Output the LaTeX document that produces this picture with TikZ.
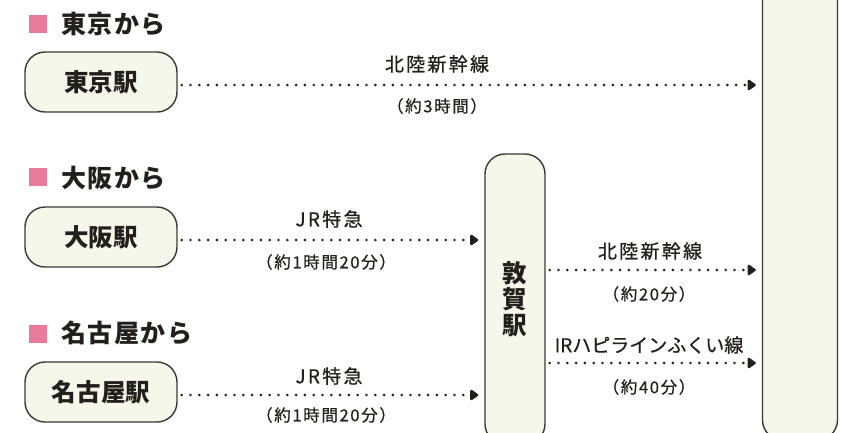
\documentclass[tikz,border=0pt]{standalone}
\usepackage{fontspec}
\setmainfont{Noto Sans CJK JP}
\usetikzlibrary{arrows.meta}
\definecolor{boxfill}{HTML}{F4F7EA}
\definecolor{boxline}{HTML}{3E3835}
\definecolor{pinkmark}{HTML}{E97A9B}
\definecolor{ink}{HTML}{231F1C}
\begin{document}
\begin{tikzpicture}[x=1bp,y=-1bp,
  station/.style={draw=boxline, line width=1.4bp, fill=boxfill, rounded corners=20bp,
    inner sep=0pt, text=ink, font=\bfseries\fontsize{24.5bp}{26bp}\selectfont},
  heading/.style={anchor=west, inner sep=0pt, text=ink,
    font=\bfseries\fontsize{25bp}{27bp}\selectfont\addfontfeature{LetterSpace=6}},
  marker/.style={fill=pinkmark, minimum size=18bp, inner sep=0pt},
  upper/.style={inner sep=0pt, text=ink, font=\fontsize{19bp}{21bp}\selectfont\addfontfeature{LetterSpace=12,FakeBold=0.6}},
  upperkana/.style={inner sep=0pt, text=ink, font=\fontsize{19bp}{21bp}\selectfont\addfontfeature{FakeBold=0.6}},
  lower/.style={inner sep=0pt, text=ink, font=\fontsize{16.5bp}{18bp}\selectfont\addfontfeature{LetterSpace=10,FakeBold=0.6}},
  route/.style={draw=ink, line width=2.9bp, dash pattern=on 0bp off 8.8bp, line cap=round,
    -{Triangle[length=9bp,width=12bp,round=false]}, shorten <=4bp, shorten >=6bp}
]
\useasboundingbox (0,0) rectangle (853,432);
\clip (0,0) rectangle (853,432);

% destination and transfer boxes
\node[station, minimum width=75bp, minimum height=480bp] (fukui) at (800,200) {};
\node[station, minimum width=60bp, minimum height=290bp, align=center] (tsuruga) at (515,299) {敦\\賀\\駅};

% headings
\node[marker] (m1) at (38,24) {};
\node[heading] (h1) at (61,24) {東京から};
\node[marker] (m2) at (38,177) {};
\node[heading] (h2) at (61,178) {大阪から};
\node[marker] (m3) at (38,334) {};
\node[heading] (h3) at (61,333) {名古屋から};

% origin stations
\node[station, minimum width=152bp, minimum height=60bp] (tokyo) at (101,82) {東京駅};
\node[station, minimum width=152bp, minimum height=60bp] (osaka) at (101,237) {大阪駅};
\node[station, minimum width=152bp, minimum height=60bp] (nagoya) at (101,392) {名古屋駅};

% routes
\draw[route] ([yshift=-3bp]tokyo.east) -- ([yshift=-3bp]tokyo.east -| fukui.west);
\draw[route] ([yshift=-3bp]osaka.east) -- ([yshift=-3bp]osaka.east -| tsuruga.west);
\draw[route] ([yshift=-3bp]nagoya.east) -- ([yshift=-3bp]nagoya.east -| tsuruga.west);
\draw[route] ([yshift=29bp]tsuruga.east) -- ([yshift=29bp]tsuruga.east -| fukui.west);
\draw[route] ([yshift=-64bp]tsuruga.east) -- ([yshift=-64bp]tsuruga.east -| fukui.west);

% labels
\node[upper] (l1a) at (437,64) {北陸新幹線};
\node[lower] (l1b) at (437,106) {（約3時間）};
\node[upper] (l2a) at (329,219) {JR特急};
\node[lower] (l2b) at (326,262) {（約1時間20分）};
\node[upper] (l3a) at (329,376) {JR特急};
\node[lower] (l3b) at (326,415) {（約1時間20分）};
\node[upper] (l4a) at (650,251) {北陸新幹線};
\node[lower] (l4b) at (649,294) {（約20分）};
\node[upperkana] (l5a) at (649,345) {IRハピラインふくい線};
\node[lower] (l5b) at (649,387) {（約40分）};
\end{tikzpicture}
\end{document}
